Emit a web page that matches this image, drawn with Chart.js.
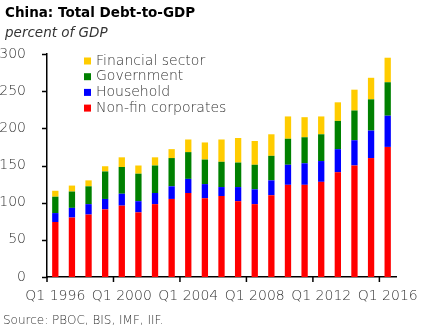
<!DOCTYPE html>
<html>
<head>
<meta charset="utf-8">
<script src="https://cdn.jsdelivr.net/npm/chart.js@4.4.0/dist/chart.umd.min.js"></script>
<style>
  html, body { margin: 0; padding: 0; background: #fff; }
  #wrap { width: 422px; height: 335px; position: relative; }
</style>
</head>
<body>
<div id="wrap"><canvas id="debtChart" width="422" height="335"></canvas></div>
<script>
// Categories (annual Q1 observations)
const quarters = ['Q1 1996', 'Q1 1997', 'Q1 1998', 'Q1 1999', 'Q1 2000', 'Q1 2001', 'Q1 2002',
  'Q1 2003', 'Q1 2004', 'Q1 2005', 'Q1 2006', 'Q1 2007', 'Q1 2008', 'Q1 2009', 'Q1 2010',
  'Q1 2011', 'Q1 2012', 'Q1 2013', 'Q1 2014', 'Q1 2015', 'Q1 2016'];

// Debt by sector, percent of GDP
const nonFinCorporates = [74, 80, 84, 91, 96, 87, 98, 105, 113, 106, 109, 102, 98, 110, 124, 124, 128, 141, 150, 160, 175];
const household = [12, 13, 14, 14, 16, 15, 15, 17, 19, 19, 12, 19, 20, 20, 27, 29, 28, 31, 34, 37, 42];
const government = [22, 22, 24, 37, 36, 37, 37, 38, 36, 33, 34, 33, 33, 33, 35, 35, 36, 38, 40, 42, 45];
const financialSector = [8, 8, 8, 7, 13, 11, 11, 12, 17, 23, 30, 33, 32, 29, 30, 27, 24, 25, 28, 29, 33];

const yTicks = [0, 50, 100, 150, 200, 250, 300];

const textColor = '#333';
const fontFamily = "'DejaVu Sans', sans-serif";

// Draws title, subtitle, source, axis tick marks and the in-plot legend
const annotations = {
  id: 'annotations',
  afterDraw(chart) {
    const c = chart.ctx;
    const xs = chart.scales.x, ys = chart.scales.y;
    c.save();

    // tick marks (outside the axes)
    c.strokeStyle = '#000';
    c.lineWidth = 1.5;
    c.beginPath();
    yTicks.forEach(v => {
      const py = Math.round(ys.getPixelForValue(v)) + 0.5;
      c.moveTo(xs.left - 5, py);
      c.lineTo(xs.left, py);
    });
    const half = (xs.getPixelForValue(1) - xs.getPixelForValue(0)) / 2;
    quarters.forEach((q, i) => {
      if (i % 4 !== 0) return;
      const px = xs.getPixelForValue(i) - half;
      c.moveTo(px, ys.bottom);
      c.lineTo(px, ys.bottom + 5);
    });
    c.stroke();

    c.fillStyle = '#000';
    c.textBaseline = 'middle';
    c.textAlign = 'left';
    c.font = "bold 13.5px " + fontFamily;
    c.fillText('China: Total Debt-to-GDP', 5, 13);
    c.font = "oblique 200 13.5px " + fontFamily;
    c.fillStyle = textColor;
    c.fillText('percent of GDP', 5, 33);
    c.font = "200 12px " + fontFamily;
    c.fillText('Source: PBOC, BIS, IMF, IIF.', 3, 321);

    // legend, top item is last dataset
    const ds = chart.data.datasets.slice().reverse();
    c.font = "200 14px " + fontFamily;
    ds.forEach((d, i) => {
      const y = 61 + i * 15.7;
      c.fillStyle = d.backgroundColor;
      c.fillRect(84, y - 3.5, 7, 7);
      c.fillStyle = textColor;
      c.fillText(d.label, 96, y);
    });
    c.restore();
  }
};

const ctx = document.getElementById('debtChart').getContext('2d');
const debtChart = new Chart(ctx, {
  type: 'bar',
  data: {
    labels: quarters,
    datasets: [{
      label: 'Non-fin corporates',
      data: nonFinCorporates,
      backgroundColor: '#FF0000'
    },
    {
      label: 'Household',
      data: household,
      backgroundColor: '#0000FF'
    },
    {
      label: 'Government',
      data: government,
      backgroundColor: '#008000'
    },
    {
      label: 'Financial sector',
      data: financialSector,
      backgroundColor: '#FFCC00'
    }]
  },
  options: {
    responsive: false,
    animation: false,
    categoryPercentage: 1,
    barPercentage: 0.38,
    layout: {
      padding: { left: 0, right: 26, top: 54, bottom: 28 }
    },
    plugins: {
      legend: { display: false },
      tooltip: { enabled: false }
    },
    scales: {
      x: {
        stacked: true,
        border: { display: true, color: '#000', width: 1.5 },
        grid: { display: false },
        ticks: {
          autoSkip: false,
          maxRotation: 0,
          padding: 3,
          color: textColor,
          font: { family: fontFamily, size: 14, weight: 200 },
          callback: function (val, index) {
            return index % 4 === 0 ? this.getLabelForValue(val) : null;
          }
        },
        afterFit(scale) { scale.height = 30; }
      },
      y: {
        stacked: true,
        min: 0,
        max: 300,
        border: { display: true, color: '#000', width: 1.5 },
        grid: { display: false },
        afterBuildTicks(scale) {
          scale.ticks = yTicks.map(v => ({ value: v }));
        },
        ticks: {
          padding: 13,
          color: textColor,
          font: { family: fontFamily, size: 14, weight: 200 }
        },
        afterFit(scale) { scale.width = 47; }
      }
    }
  },
  plugins: [annotations]
});
</script>
</body>
</html>
